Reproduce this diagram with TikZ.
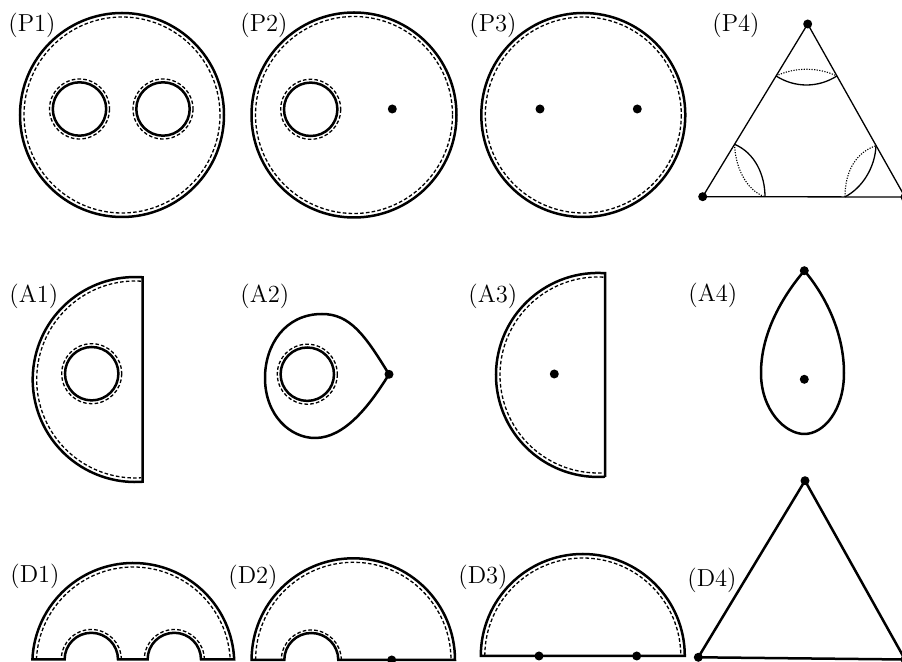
\documentclass[tikz,border=0pt]{standalone}
\usepackage{fontspec}
\setmainfont{Latin Modern Roman}
\begin{document}
\begin{tikzpicture}[x=0.5pt,y=-0.5pt,
  thk/.style={line width=1.25pt},
  dsh/.style={line width=0.65pt, dash pattern=on 1.8pt off 1.1pt},
  thn/.style={line width=0.65pt},
  dtt/.style={line width=0.55pt, dash pattern=on 0.6pt off 0.7pt},
  lbl/.style={anchor=west, inner sep=0pt, font=\fontsize{12.3pt}{14pt}\selectfont},
  dotr/.style={fill=black}]
\useasboundingbox (0,0) rectangle (902,662);
\clip (0,0) rectangle (902,662);

% labels
\node[lbl] (lP1) at (8,25) {(P1)};
\node[lbl] (lP2) at (240,25) {(P2)};
\node[lbl] (lP3) at (469,25) {(P3)};
\node[lbl] (lP4) at (712,25) {(P4)};
\node[lbl] (lA1) at (9,296) {(A1)};
\node[lbl] (lA2) at (240,296) {(A2)};
\node[lbl] (lA3) at (468,296) {(A3)};
\node[lbl] (lA4) at (688,295) {(A4)};
\node[lbl] (lD1) at (10,576) {(D1)};
\node[lbl] (lD2) at (228,577) {(D2)};
\node[lbl] (lD3) at (458,577) {(D3)};
\node[lbl] (lD4) at (687,580) {(D4)};

% ---------- P1
\draw[thk] (122,115) circle (102);
\draw[dsh] (122,115) circle (98);
\draw[thk] (79.5,109) circle (26.7);
\draw[dsh] (79.5,109) circle (30);
\draw[thk] (163,109) circle (26.7);
\draw[dsh] (163,109) circle (30);

% ---------- P2
\draw[thk] (354,115) circle (102.5);
\draw[dsh] (354,115) circle (98.5);
\draw[thk] (310.7,109.3) circle (26.7);
\draw[dsh] (310.7,109.3) circle (30);
\fill[dotr] (392.3,109) circle (4.5);

% ---------- P3
\draw[thk] (583.3,115) circle (102);
\draw[dsh] (583.3,115) circle (98);
\fill[dotr] (540,109) circle (4.5);
\fill[dotr] (637.3,109) circle (4.5);

% ---------- P4
\coordinate (pT) at (807.7,24);
\coordinate (pL) at (702.7,196.7);
\coordinate (pR) at (905,197);
\draw[thn] (pT) -- (pR) -- (pL) -- cycle;
\coordinate (t1) at (776.1,76);
\coordinate (t2) at (836.9,76);
\coordinate (b1) at (734.6,144.3);
\coordinate (b2) at (765,196.8);
\coordinate (c1) at (845,196.9);
\coordinate (c2) at (876,145.7);
\draw[thn] (t1) .. controls (795,88) and (818,88) .. (t2);
\draw[dtt] (t1) .. controls (795,67) and (818,67) .. (t2);
\draw[thn] (b1) .. controls (755,153) and (765,175) .. (b2);
\draw[dtt] (b1) .. controls (735,165) and (745,190) .. (b2);
\draw[thn] (c1) .. controls (862,188) and (875,168) .. (c2);
\draw[dtt] (c1) .. controls (845,170) and (857,152) .. (c2);
\fill[dotr] (pT) circle (4.5);
\fill[dotr] (pL) circle (4.5);
\fill[dotr] (pR) circle (4.5);

% ---------- A1
\draw[thk] (142.7,481.7) -- (142.7,277.3) arc[start angle=-85.8, end angle=-274.2, radius=102.5] -- cycle;
\draw[dsh] (135.2,379.5) ++(-86.6:98.5) arc[start angle=-86.6, end angle=-273.4, radius=98.5];
\draw[thk] (91.7,373.7) circle (26.7);
\draw[dsh] (91.7,373.7) circle (30);

% ---------- A2
\coordinate (a2c) at (389,374.3);
\draw[thk] (a2c) .. controls (365,335) and (350,314) .. (322,314)
  .. controls (285,314) and (265,345) .. (265,378)
  .. controls (265,415) and (290,438) .. (315,438)
  .. controls (345,438) and (370,405) .. (a2c);
\draw[thk] (307.3,374.2) circle (26.7);
\draw[dsh] (307.3,374.2) circle (30);
\fill[dotr] (a2c) circle (4.5);

% ---------- A3
\draw[thk] (605,476.8) -- (605,273.2) arc[start angle=-86.06, end angle=-273.94, radius=102] -- cycle;
\draw[dsh] (598,375) ++(-86.9:98) arc[start angle=-86.9, end angle=-273.1, radius=98];
\fill[dotr] (554.3,374) circle (4.5);

% ---------- A4
\coordinate (a4t) at (804.3,270.7);
\draw[thk] (a4t) .. controls (788,290) and (761,328) .. (761,373)
  .. controls (761,410) and (785,434) .. (804.3,434)
  .. controls (824,434) and (844,410) .. (844,373)
  .. controls (844,328) and (821,290) .. (a4t);
\fill[dotr] (a4t) circle (4.5);
\fill[dotr] (804.3,379.3) circle (4.5);

% ---------- D1
\draw[thk] (32.4,659.5) arc[start angle=-177.45, end angle=-2.55, radius=101]
  -- (201,659.5) arc[start angle=0, end angle=-180, radius=26.7]
  -- (118,659.5) arc[start angle=0, end angle=-180, radius=26.7] -- cycle;
\draw[dsh] (133.3,664) ++(-177.3:97) arc[start angle=-177.3, end angle=-2.7, radius=97];
\draw[dsh] (204.3,659.5) arc[start angle=0, end angle=-180, radius=30];
\draw[dsh] (121.3,659.5) arc[start angle=0, end angle=-180, radius=30];

% ---------- D2
\draw[thk] (251.6,660) arc[start angle=180, end angle=360, radius=101.7]
  -- (338.3,660) arc[start angle=0, end angle=-180, radius=27] -- cycle;
\draw[dsh] (353.3,660) ++(180:97.7) arc[start angle=180, end angle=360, radius=97.7];
\draw[dsh] (341.3,660) arc[start angle=0, end angle=-180, radius=30];
\fill[dotr] (391.7,660) circle (4.5);

% ---------- D3
\draw[thk] (480.8,656) arc[start angle=180, end angle=360, radius=102] -- cycle;
\draw[dsh] (582.8,656) ++(180:98) arc[start angle=180, end angle=360, radius=98];
\fill[dotr] (539,656) circle (4.5);
\fill[dotr] (636.7,656) circle (4.5);

% ---------- D4
\coordinate (dT) at (805,480.7);
\coordinate (dL) at (698.3,657.3);
\coordinate (dR) at (905,659.5);
\draw[thk] (dT) -- (dR) -- (dL) -- cycle;
\fill[dotr] (dT) circle (4.5);
\fill[dotr] (dL) circle (4.5);
\fill[dotr] (dR) circle (4.5);
\end{tikzpicture}
\end{document}
